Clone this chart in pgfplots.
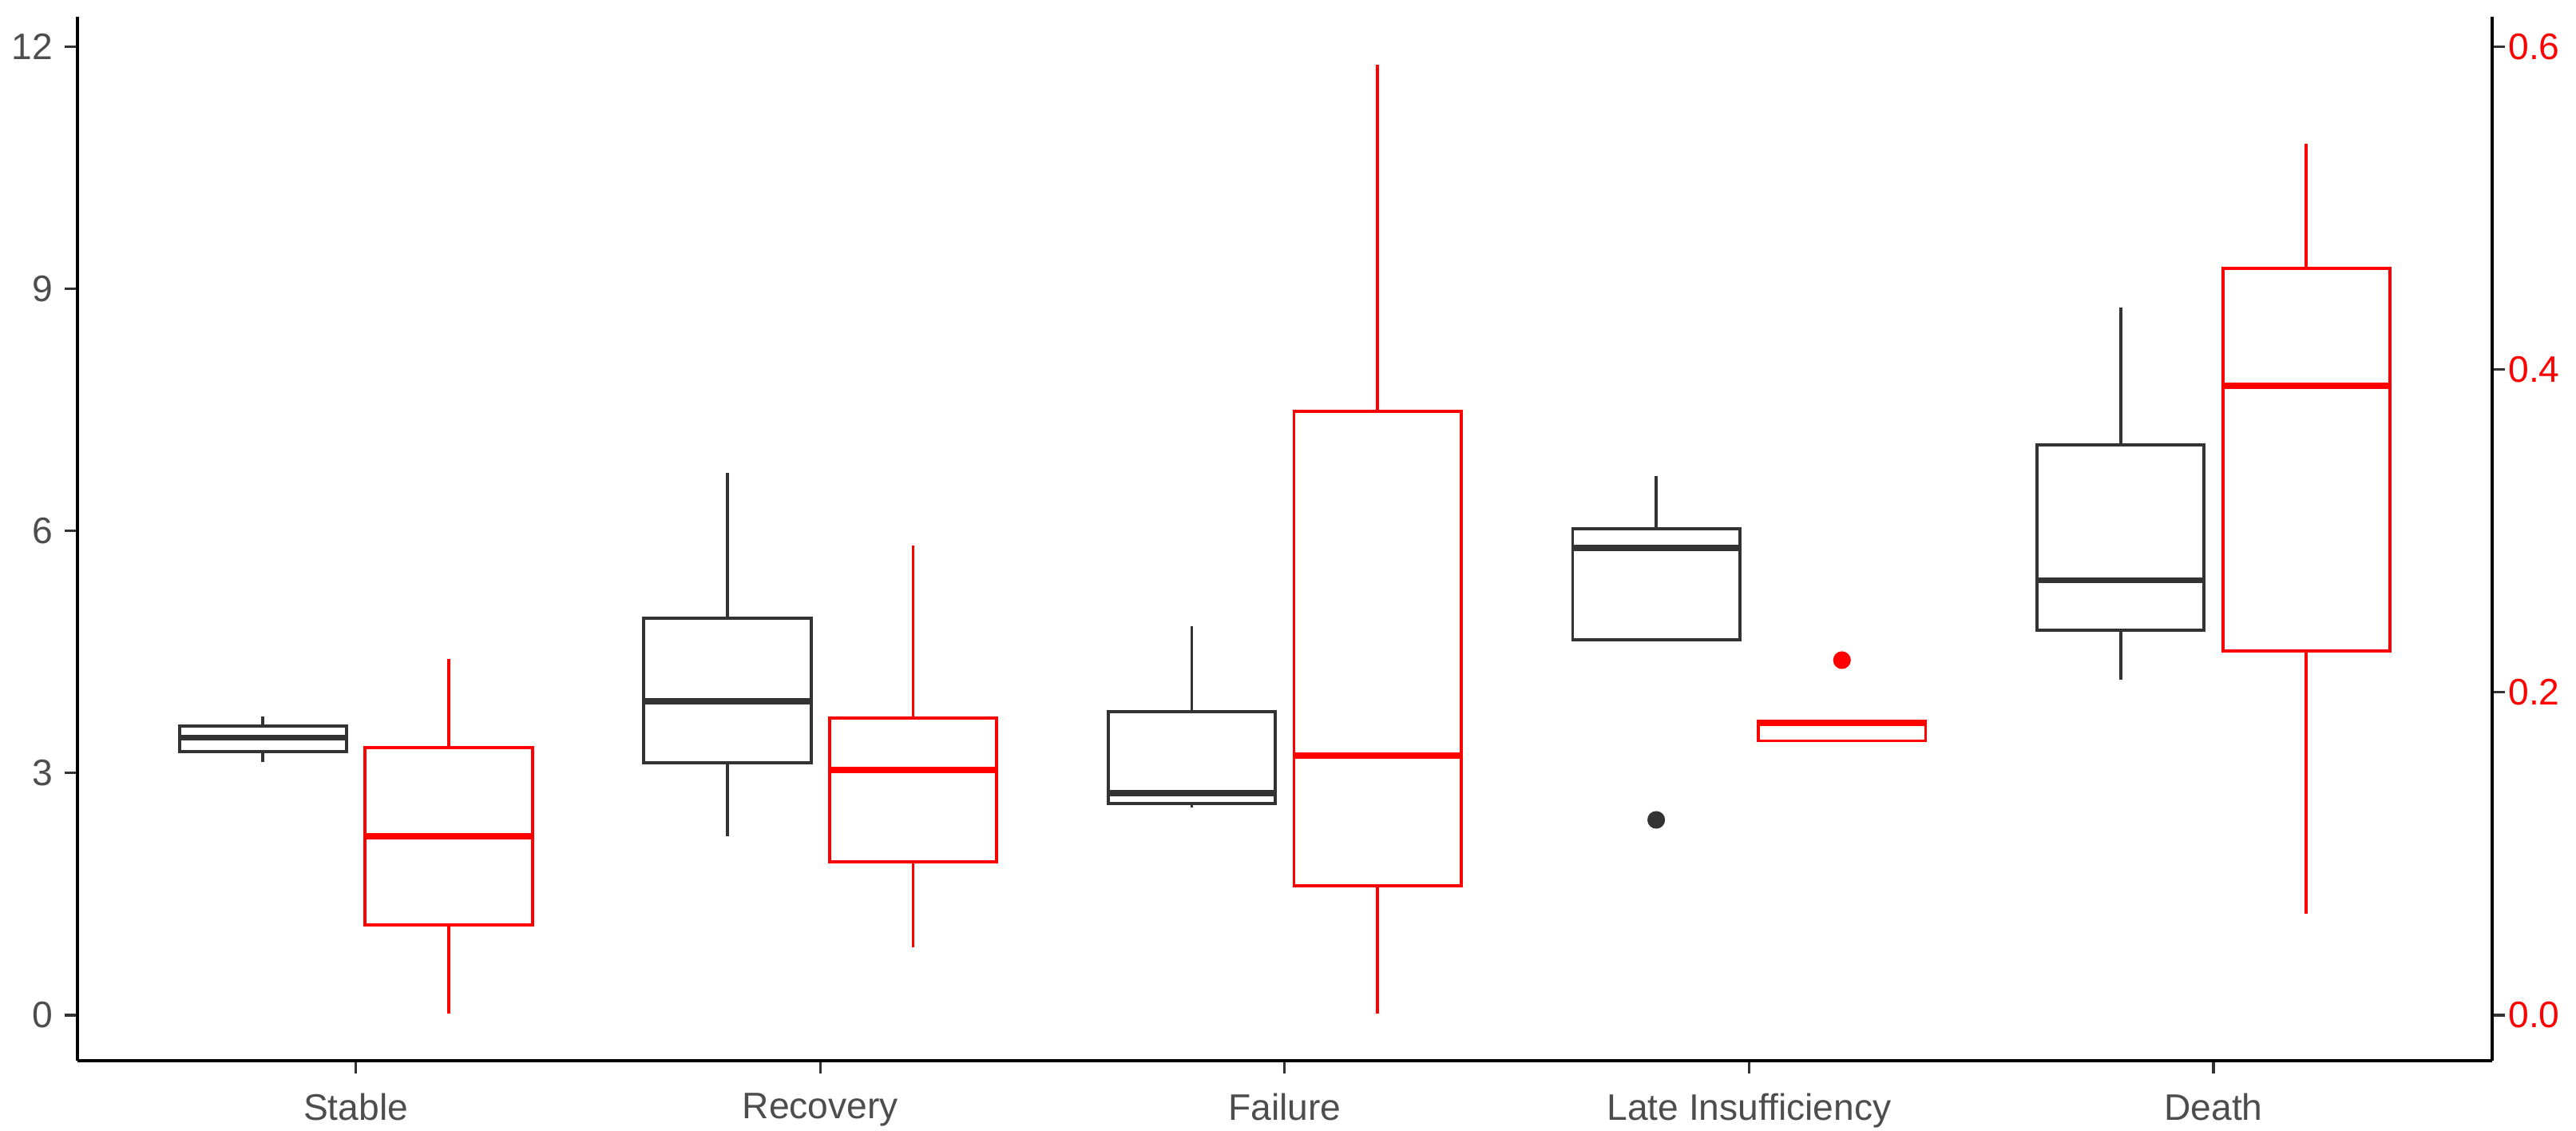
\documentclass[border=0pt]{standalone}
\usepackage{fontspec}
\setmainfont{Liberation Sans}
\usepackage{pgfplots}
\pgfplotsset{compat=1.18}
\usepgfplotslibrary{statistics}

\definecolor{ggdark}{HTML}{333333}
\definecolor{ggtext}{HTML}{4D4D4D}
\definecolor{ggred}{HTML}{FF0000}

% common look of the two overlaid axes
\pgfplotsset{
  base/.style={
    scale only axis, width=432pt, height=186.7pt,
    xmin=0.4, xmax=5.6,
    tick align=outside, major tick length=2.3pt,
    tick style={ggdark, line width=0.45pt},
    axis line style={black, line width=0.55pt},
    ticklabel style={font=\fontsize{6.6}{8}\selectfont},
    clip=false,
  },
  gbox/.style={
    draw=#1, line width=0.55pt, solid, mark=*, mark size=1.3pt,
    mark options={fill=#1, draw=#1},
    boxplot/draw direction=y,
    boxplot/box extend=0.36, boxplot/whisker extend=0,
    boxplot/every median/.style={line width=1.1pt},
  },
}

\begin{document}
\begin{tikzpicture}
\begin{axis}[base, name=ax,
  ymin=-0.565, ymax=12.375,
  axis x line*=bottom, axis y line*=left,
  xtick={1,2,3,4,5}, xtick pos=bottom,
  xticklabels={Stable, Recovery, Failure, Late Insufficiency, Death},
  ytick={0,3,6,9,12}, yticklabels={0,3,6,9,12}, ytick pos=left,
  xticklabel style={text=ggtext},
  yticklabel style={text=ggtext, inner sep=1.9pt},
]
% left scale (black)
\addplot[gbox=ggdark, boxplot prepared={draw position=0.8,
  lower whisker=3.14, lower quartile=3.27, median=3.44,
  upper quartile=3.58, upper whisker=3.70}] coordinates {};
\addplot[gbox=ggdark, boxplot prepared={draw position=1.8,
  lower whisker=2.22, lower quartile=3.13, median=3.89,
  upper quartile=4.92, upper whisker=6.72}] coordinates {};
\addplot[gbox=ggdark, boxplot prepared={draw position=2.8,
  lower whisker=2.57, lower quartile=2.62, median=2.75,
  upper quartile=3.76, upper whisker=4.82}] coordinates {};
\addplot[gbox=ggdark, boxplot prepared={draw position=3.8,
  lower whisker=4.65, lower quartile=4.65, median=5.79,
  upper quartile=6.03, upper whisker=6.68}] coordinates {(0,2.42)};
\addplot[gbox=ggdark, boxplot prepared={draw position=4.8,
  lower whisker=4.16, lower quartile=4.77, median=5.39,
  upper quartile=7.07, upper whisker=8.77}] coordinates {};
\end{axis}

\begin{axis}[base,
  ymin=-0.02825, ymax=0.61875,
  axis x line=none, axis y line*=right, ytick pos=right,
  ytick={0,0.2,0.4,0.6}, yticklabels={0.0,0.2,0.4,0.6},
  yticklabel style={text=ggred, inner sep=0.4pt},
]
% right scale (red)
\addplot[gbox=ggred, boxplot prepared={draw position=1.2,
  lower whisker=0.001, lower quartile=0.056, median=0.111,
  upper quartile=0.166, upper whisker=0.2205}] coordinates {};
\addplot[gbox=ggred, boxplot prepared={draw position=2.2,
  lower whisker=0.042, lower quartile=0.095, median=0.152,
  upper quartile=0.184, upper whisker=0.291}] coordinates {};
\addplot[gbox=ggred, boxplot prepared={draw position=3.2,
  lower whisker=0.001, lower quartile=0.080, median=0.161,
  upper quartile=0.374, upper whisker=0.589}] coordinates {};
\addplot[gbox=ggred, boxplot prepared={draw position=4.2,
  lower whisker=0.170, lower quartile=0.170, median=0.181,
  upper quartile=0.182, upper whisker=0.182}] coordinates {(0,0.22)};
\addplot[gbox=ggred, boxplot prepared={draw position=5.2,
  lower whisker=0.0626, lower quartile=0.2255, median=0.390,
  upper quartile=0.463, upper whisker=0.540}] coordinates {};
\end{axis}

\pgfresetboundingbox
\path ([shift={(-13.81pt,-12.57pt)}]ax.south west) rectangle ([shift={(15pt,3pt)}]ax.north east);
\end{tikzpicture}
\end{document}
